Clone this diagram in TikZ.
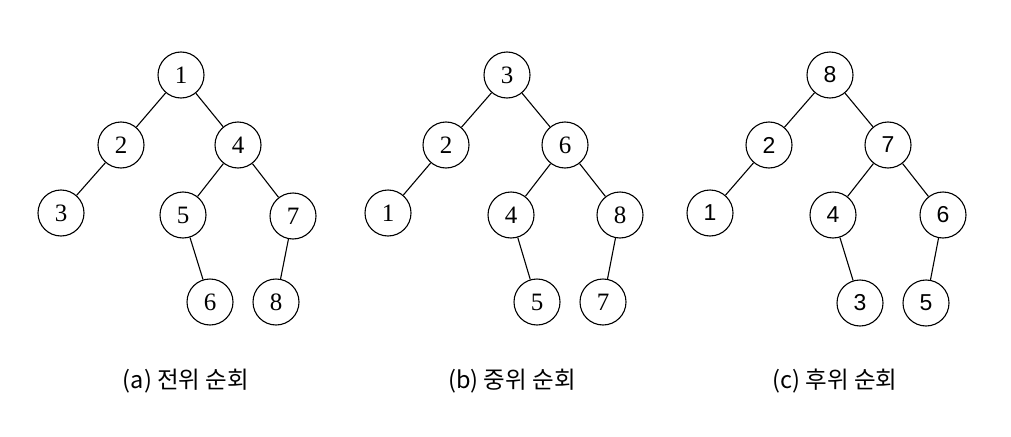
\documentclass[tikz,border=0pt]{standalone}
\usepackage{fontspec}
\setmainfont{Liberation Serif}
\newfontfamily\gothic{Liberation Sans}
\newfontfamily\kofont{Noto Sans CJK KR}
\usetikzlibrary{positioning}

\begin{document}
\begin{tikzpicture}[x=1pt, y=-1pt,
  vertex/.style={draw, circle, line width=1.1pt, minimum size=46pt, inner sep=0pt, font=\fontsize{25}{25}\selectfont},
  gvertex/.style={vertex, font=\gothic\fontsize{23}{23}\selectfont},
  edge/.style={line width=1.1pt},
  caption/.style={font=\kofont\fontsize{23.5}{23.5}\selectfont}
]
\useasboundingbox (0,0) rectangle (1011,436);

% (a) preorder
\node[vertex] (pre1) at (181,75) {1};
\node[vertex] (pre2) at (121,145) {2};
\node[vertex] (pre4) at (238,145) {4};
\node[vertex] (pre3) at (61,213) {3};
\node[vertex] (pre5) at (183,215) {5};
\node[vertex] (pre7) at (293,216) {7};
\node[vertex] (pre6) at (210,302) {6};
\node[vertex] (pre8) at (276,302) {8};
\draw[edge] (pre1) -- (pre2) (pre1) -- (pre4) (pre2) -- (pre3);
\draw[edge] (pre4) -- (pre5) (pre4) -- (pre7) (pre5) -- (pre6) (pre7) -- (pre8);

% (b) inorder
\node[vertex] (in3) at (507,75) {3};
\node[vertex] (in2) at (446,145) {2};
\node[vertex] (in6) at (565,145) {6};
\node[vertex] (in1) at (388,213) {1};
\node[vertex] (in4) at (511,215) {4};
\node[vertex] (in8) at (620,215) {8};
\node[vertex] (in5) at (537,302) {5};
\node[vertex] (in7) at (603,302) {7};
\draw[edge] (in3) -- (in2) (in3) -- (in6) (in2) -- (in1);
\draw[edge] (in6) -- (in4) (in6) -- (in8) (in4) -- (in5) (in8) -- (in7);

% (c) postorder
\node[gvertex] (post8) at (830,75) {8};
\node[gvertex] (post2) at (769,145) {2};
\node[gvertex] (post7) at (888,145) {7};
\node[gvertex] (post1) at (710,213) {1};
\node[gvertex] (post4) at (833,215) {4};
\node[gvertex] (post6) at (943,215) {6};
\node[gvertex] (post3) at (860,303) {3};
\node[gvertex] (post5) at (926,303) {5};
\draw[edge] (post8) -- (post2) (post8) -- (post7) (post2) -- (post1);
\draw[edge] (post7) -- (post4) (post7) -- (post6) (post4) -- (post3) (post6) -- (post5);

% captions
\node[caption] (capa) at (186,381) {(a) 전위 순회};
\node[caption] (capb) at (512,381) {(b) 중위 순회};
\node[caption] (capc) at (835,381) {(c) 후위 순회};
\end{tikzpicture}
\end{document}
